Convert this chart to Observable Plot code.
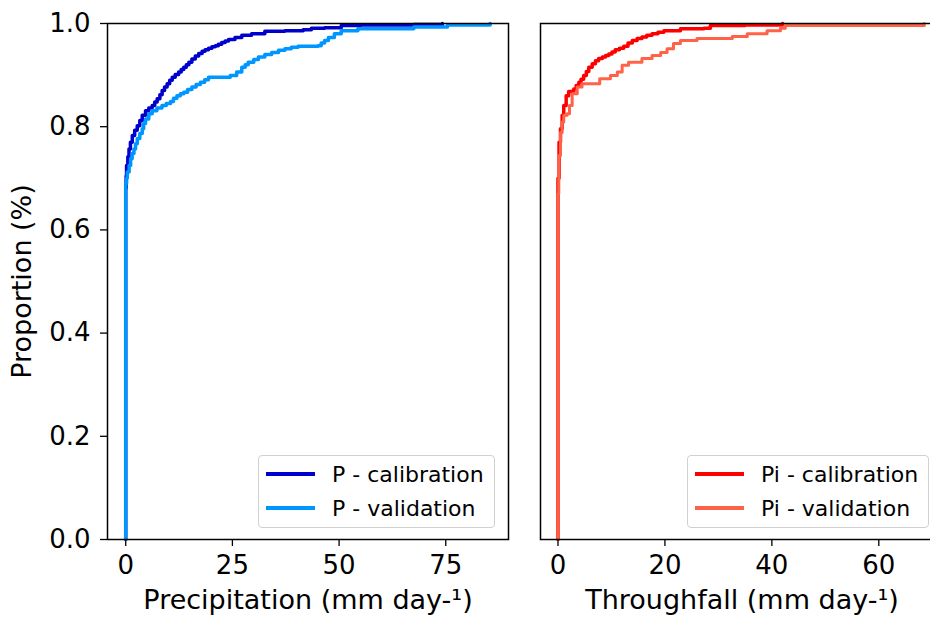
<!DOCTYPE html>
<html>
<head>
<meta charset="utf-8">
<script src="https://cdn.jsdelivr.net/npm/d3@7"></script>
<script src="https://cdn.jsdelivr.net/npm/@observablehq/plot@0.6"></script>
<style>
  html, body { margin: 0; padding: 0; background: #fff; overflow: hidden; }
  #wrap { position: relative; width: 930px; height: 617px; overflow: hidden; font-family: "DejaVu Sans", sans-serif; }
  .panel { position: absolute; top: 0; }
  .panel svg { max-width: none !important; }
  .legend { position: absolute; box-sizing: border-box; border: 1px solid #d0d0d0; border-radius: 4px; background: rgba(255,255,255,0.85); }
  .row { position: absolute; left: 0; height: 30px; display: flex; align-items: center; font-size: 22px; color: #000; white-space: nowrap; }
  .sw { display: inline-block; width: 49px; height: 4px; margin-left: 7px; margin-right: 17px; }
</style>
</head>
<body>
<div id="wrap">
  <div id="p1" class="panel" style="left:0px;width:520px"></div>
  <div id="p2" class="panel" style="left:490px;width:463px"></div>
  <div id="leg1" class="legend" style="left:258px;top:455px;width:237px;height:73px"></div>
  <div id="leg2" class="legend" style="left:687px;top:455px;width:242px;height:73px"></div>
</div>
<script>
// ---- Data (ECDF step corners: value, cumulative proportion) ----
const pCalX = [0, 0, 0.1, 0.2, 0.5, 0.77, 1.1, 1.54, 2.1, 2.7, 3.3, 3.87, 4.64, 5.4, 6.2, 6.8, 7.37, 8.0, 8.53, 9.1, 9.7, 10.3, 10.9, 11.6, 12.4, 13.0, 13.6, 14.2, 14.8, 15.5, 16.3, 17.1, 17.9, 18.6, 19.4, 20.2, 21.0, 21.7, 22.5, 23.3, 24.1, 25.6, 27.2, 29.5, 32.6, 37.3, 41.6, 43.5, 46.6, 50.5, 55, 67.5, 74.2];
const pCalY = [0, 0.68, 0.705, 0.725, 0.742, 0.757, 0.770, 0.783, 0.793, 0.802, 0.812, 0.822, 0.831, 0.836, 0.841, 0.848, 0.854, 0.862, 0.870, 0.877, 0.883, 0.890, 0.896, 0.901, 0.906, 0.911, 0.915, 0.920, 0.925, 0.931, 0.937, 0.942, 0.946, 0.949, 0.952, 0.955, 0.957, 0.960, 0.963, 0.966, 0.969, 0.973, 0.977, 0.980, 0.985, 0.986, 0.988, 0.991, 0.992, 0.996, 0.997, 0.998, 1.0];

const pValX = [0, 0, 0.2, 0.37, 0.8, 1.15, 1.5, 1.93, 2.3, 2.7, 3.3, 3.87, 4.2, 4.64, 5.4, 6.2, 7.3, 8.5, 9.5, 10.5, 11.2, 12.0, 12.8, 13.6, 14.5, 15.5, 16.5, 17.5, 18.5, 19.4, 24.5, 26.0, 27.2, 28.0, 28.7, 30.0, 31.1, 32.6, 34.2, 35.8, 37.3, 38.8, 40.4, 45.1, 45.8, 46.6, 47.5, 48.9, 50.5, 54.4, 67.5, 75.4, 85.4];
const pValY = [0, 0.69, 0.70, 0.712, 0.725, 0.738, 0.748, 0.757, 0.767, 0.777, 0.787, 0.796, 0.806, 0.815, 0.825, 0.831, 0.836, 0.841, 0.845, 0.849, 0.855, 0.860, 0.864, 0.867, 0.872, 0.877, 0.882, 0.886, 0.891, 0.896, 0.899, 0.906, 0.915, 0.920, 0.925, 0.930, 0.935, 0.940, 0.944, 0.948, 0.951, 0.954, 0.956, 0.957, 0.962, 0.967, 0.973, 0.980, 0.986, 0.990, 0.993, 0.997, 1.0];

const piCalX = [0, 0, 0.2, 0.47, 0.78, 1.08, 1.53, 2.0, 2.95, 3.4, 3.9, 4.3, 4.8, 5.3, 5.76, 6.4, 7.0, 7.6, 8.3, 8.9, 9.5, 10.1, 10.7, 11.5, 12.3, 13.1, 13.9, 14.8, 15.7, 16.6, 17.6, 18.7, 19.8, 22.9, 27.3, 28.5, 35, 42];
const piCalY = [0, 0.70, 0.77, 0.796, 0.822, 0.841, 0.860, 0.868, 0.873, 0.880, 0.886, 0.892, 0.899, 0.907, 0.915, 0.922, 0.928, 0.932, 0.935, 0.938, 0.941, 0.945, 0.949, 0.952, 0.956, 0.962, 0.967, 0.971, 0.974, 0.977, 0.980, 0.983, 0.986, 0.990, 0.991, 0.996, 0.997, 1.0];

const piValX = [0, 0, 0.15, 0.47, 0.78, 1.08, 1.7, 2.15, 2.65, 3.6, 4.5, 7.8, 9.8, 11.1, 12.0, 13.2, 15.7, 17.6, 19.2, 20.4, 21.6, 22.9, 26.0, 32.6, 35.4, 39.1, 41.6, 42.5, 68.5];
const piValY = [0, 0.67, 0.744, 0.789, 0.809, 0.822, 0.825, 0.841, 0.864, 0.877, 0.883, 0.893, 0.899, 0.906, 0.919, 0.925, 0.932, 0.938, 0.944, 0.951, 0.961, 0.967, 0.971, 0.975, 0.980, 0.986, 0.991, 0.996, 1.0];

const seriesNames = ["P - calibration", "P - validation", "Pi - calibration", "Pi - validation"];
const seriesColors = ["#0000cd", "#0096ff", "#ff0000", "#ff6347"];
const yTicks = [0, 0.2, 0.4, 0.6, 0.8, 1.0];
const xTicksLeft = [0, 25, 50, 75];
const xTicksRight = [0, 20, 40, 60];
const xLabelLeft = "Precipitation (mm day-¹)";
const xLabelRight = "Throughfall (mm day-¹)";
const yLabel = "Proportion (%)";

const toRows = (xs, ys) => xs.map((x, i) => ({x, y: ys[i]}));
const FS = 26;   // tick labels
const LS = 27;   // axis titles
const style = {fontFamily: "DejaVu Sans", fontSize: FS + "px", background: "transparent", overflow: "visible"};

const left = Plot.plot({
  width: 520, height: 617,
  marginLeft: 107, marginRight: 12, marginTop: 23, marginBottom: 78,
  style,
  x: {domain: [-4.27, 89.7]},
  y: {domain: [0, 1]},
  marks: [
    Plot.line(toRows(pCalX, pCalY), {x: "x", y: "y", curve: "step-after", stroke: seriesColors[0], strokeWidth: 3.5}),
    Plot.line(toRows(pValX, pValY), {x: "x", y: "y", curve: "step-after", stroke: seriesColors[1], strokeWidth: 3.5}),
    Plot.frame({stroke: "#000", strokeWidth: 1.5}),
    Plot.axisX({ticks: xTicksLeft, tickSize: 7, tickPadding: 9, fontSize: FS, label: null, stroke: "#000", strokeWidth: 1.3}),
    Plot.axisY({ticks: yTicks, tickSize: 7, tickPadding: 10, fontSize: FS, label: null, tickFormat: d3.format(".1f"), stroke: "#000", strokeWidth: 1.3}),
    Plot.text([xLabelLeft], {frameAnchor: "bottom", dy: 69, fontSize: LS, fill: "#000", textAnchor: "middle"}),
    Plot.text([yLabel], {frameAnchor: "left", dx: -85, rotate: -90, fontSize: LS, fill: "#000", textAnchor: "middle"})
  ]
});
document.getElementById("p1").appendChild(left);

const right = Plot.plot({
  width: 463, height: 617,
  marginLeft: 50, marginRight: 10, marginTop: 23, marginBottom: 78,
  style,
  x: {domain: [-3.27, 72.1]},
  y: {domain: [0, 1], axis: null},
  marks: [
    Plot.line(toRows(piCalX, piCalY), {x: "x", y: "y", curve: "step-after", stroke: seriesColors[2], strokeWidth: 3.5}),
    Plot.line(toRows(piValX, piValY), {x: "x", y: "y", curve: "step-after", stroke: seriesColors[3], strokeWidth: 3}),
    Plot.frame({stroke: "#000", strokeWidth: 1.5}),
    Plot.axisX({ticks: xTicksRight, tickSize: 7, tickPadding: 9, fontSize: FS, label: null, stroke: "#000", strokeWidth: 1.3}),
    Plot.text([xLabelRight], {frameAnchor: "bottom", dy: 69, fontSize: LS, fill: "#000", textAnchor: "middle"})
  ]
});
document.getElementById("p2").appendChild(right);

function legend(id, idx) {
  const box = document.getElementById(id);
  idx.forEach((k, r) => {
    const row = document.createElement("div");
    row.className = "row";
    row.style.top = (3 + r * 34) + "px";
    const sw = document.createElement("span");
    sw.className = "sw";
    sw.style.background = seriesColors[k];
    const t = document.createElement("span");
    t.textContent = seriesNames[k];
    row.appendChild(sw); row.appendChild(t);
    box.appendChild(row);
  });
}
legend("leg1", [0, 1]);
legend("leg2", [2, 3]);
</script>
</body>
</html>
